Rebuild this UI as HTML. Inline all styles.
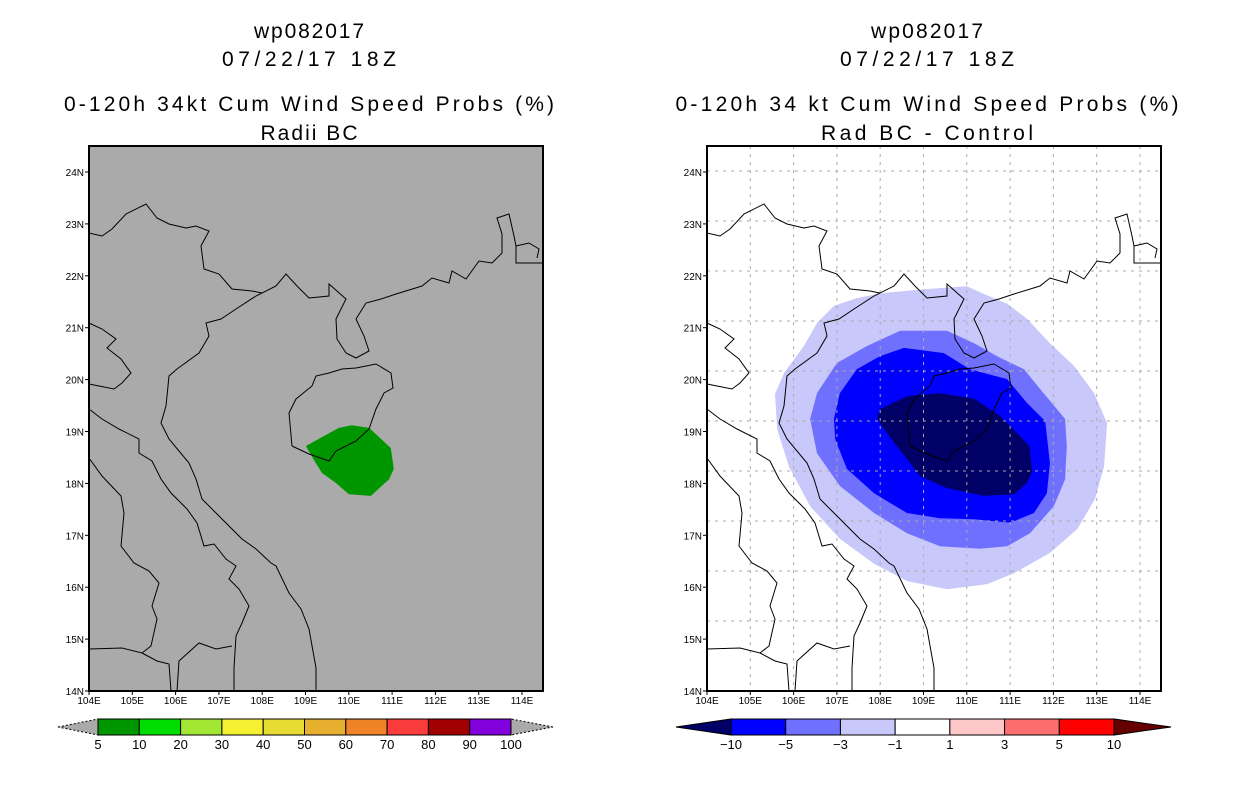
<!DOCTYPE html>
<html><head><meta charset="utf-8"><style>
body{margin:0;background:#fff;width:1236px;height:800px;overflow:hidden}
svg{display:block}
text{font-family:"Liberation Sans",sans-serif;fill:#000}
</style></head><body>
<svg id="s" width="1236" height="800"></svg>
<script>
const lonTicks=[104,105,106,107,108,109,110,111,112,113,114];
const latTicks=[14,15,16,17,18,19,20,21,22,23,24];
const probLevels=[5,10,20,30,40,50,60,70,80,90,100];
const probColors=['#009600','#00dc00','#a0e632','#f5f032','#e6dc32','#e6af2d','#f08228','#fa3c3c','#a00000','#8200dc'];
const diffLevels=[-10,-5,-3,-1,1,3,5,10];
const diffColors=['#0000ff','#7070ff','#c8c8fa','#ffffff','#ffc8c8','#ff6e6e','#ff0000'];
const greenLon=[109.01,109.77,110.07,110.47,110.97,111.04,110.93,110.51,110.00,109.70,109.38,109.24];
const greenLat=[18.72,19.07,19.12,19.07,18.68,18.28,18.08,17.76,17.79,18.01,18.20,18.39];
const lightLon=[105.57,105.78,106.24,106.54,106.93,107.46,108.09,109.01,110.00,110.40,110.93,111.39,111.92,112.48,112.94,113.24,113.17,112.96,112.55,111.92,111.09,110.47,109.54,108.62,107.86,107.07,106.38,105.89,105.62];
const lightLat=[19.72,20.13,20.65,21.09,21.42,21.57,21.67,21.74,21.80,21.65,21.46,21.17,20.70,20.26,19.74,19.16,18.33,17.70,17.12,16.66,16.27,16.06,15.96,16.12,16.45,16.93,17.56,18.33,19.05];
const medLon=[106.38,106.54,107.00,107.70,108.46,109.54,110.17,110.70,111.32,111.69,112.27,112.31,112.27,112.01,111.46,110.93,110.30,109.38,108.62,107.86,107.07,106.54];
const medLat=[19.24,19.74,20.32,20.65,20.94,20.94,20.70,20.45,20.20,19.82,19.24,18.72,18.08,17.56,17.04,16.79,16.74,16.79,17.04,17.43,17.95,18.58];
const blueLon=[106.93,107.07,107.46,107.99,108.55,109.47,110.07,110.93,111.39,111.81,111.92,111.85,111.55,111.00,110.17,109.38,108.62,107.86,107.23,106.96];
const blueLat=[19.24,19.74,20.20,20.45,20.61,20.51,20.20,20.01,19.55,19.20,18.39,17.81,17.43,17.24,17.31,17.33,17.43,17.81,18.28,18.85];
const darkLon=[107.93,107.99,108.62,109.38,110.17,110.77,111.23,111.44,111.51,111.39,111.09,110.40,109.54,108.92,108.62,108.32];
const darkLat=[19.24,19.43,19.68,19.74,19.63,19.30,18.91,18.72,18.24,18.01,17.79,17.76,17.91,18.14,18.47,18.78];

const NS='http://www.w3.org/2000/svg', S=document.getElementById('s');
function el(t,a,p){const e=document.createElementNS(NS,t);for(const k in a)e.setAttribute(k,a[k]);(p||S).appendChild(e);return e;}
const FW=454,FH=545;
function xS(lon){return (lon-104)*43.3;}
function yS(lat){return FH-(lat-14)*51.9;}
const coasts=[
[[227,545],[227,522],[220,483],[212,463],[200,447],[187,420],[182,417],[167,403],[153,393],[137,377],[113,353],[107,333],[100,317],[80,293],[72,277],[77,260],[80,230],[88,223],[110,207],[120,190],[117,177],[132,173],[147,163],[167,150],[187,140],[197,128],[208,140],[220,152],[240,150],[240,138],[257,153],[247,173],[248,193],[257,207],[267,212],[280,205],[275,190],[267,173],[277,157],[292,153],[307,148],[333,140],[343,132],[360,137],[363,125],[377,133],[390,115],[403,117],[413,107],[413,88],[408,72],[420,68],[425,90],[427,100],[427,117],[454,117]],
[[0,87],[13,90],[23,83],[37,68],[57,58],[68,72],[80,78],[97,82],[107,80],[120,85],[112,100],[115,123],[130,128],[143,143],[163,145],[173,147]],
[[0,177],[13,183],[27,193],[18,202],[32,213],[42,227],[33,237],[25,243],[10,240],[0,238]],
[[0,263],[13,273],[30,283],[50,293],[50,307],[63,315],[72,333],[82,347],[98,363],[108,377],[115,400],[125,398],[137,413],[147,420],[140,433],[150,443],[160,460],[153,477],[147,490],[145,522],[145,545]],
[[0,312],[13,330],[32,350],[35,367],[32,400],[45,417],[60,425],[70,437],[63,460],[68,473],[62,500],[53,507],[33,502],[0,503]],
[[53,507],[68,515],[80,518],[82,545]],[[88,545],[90,515],[110,497],[127,503],[143,500]],
[[203,300],[200,267],[207,253],[223,240],[227,230],[240,227],[253,223],[267,222],[287,218],[302,227],[304,242],[295,247],[287,263],[280,283],[267,295],[247,305],[240,315],[220,308],[203,300]],
[[427,100],[440,97],[450,103],[448,112]]
];
function poly(g,lon,lat,fill,name){
  const p=el('polygon',{points:lon.map((v,i)=>xS(v).toFixed(1)+','+yS(lat[i]).toFixed(1)).join(' '),fill:fill},g);
  
  
}
function panel(ox,bg,kind){
  const g=el('g',{transform:`translate(${ox},146)`});
  
  
  el('rect',{x:0,y:0,width:FW,height:FH,fill:bg},g);
  if(kind==='radii'){poly(g,greenLon,greenLat,'#009600','prob-5-10-area');}
  else{
    poly(g,lightLon,lightLat,'#c8c8fa','diff-minus1-area');
    poly(g,medLon,medLat,'#7070ff','diff-minus3-area');
    poly(g,blueLon,blueLat,'#0000ff','diff-minus5-area');
    poly(g,darkLon,darkLat,'#000066','diff-minus10-area');
    for(let i=1;i<=10;i++){el('line',{x1:i*43.3,y1:0,x2:i*43.3,y2:FH,stroke:'#aaa','stroke-dasharray':'3,5'},g);}
    for(let j=0;j<10;j++){const y=25+j*50;el('line',{x1:0,y1:y,x2:FW,y2:y,stroke:'#aaa','stroke-dasharray':'3,5'},g);}
  }
  coasts.forEach(c=>{el('polyline',{points:c.join(' '),fill:'none',stroke:'#000','stroke-width':1},g);});
  el('rect',{x:0,y:0,width:FW,height:FH,fill:'none',stroke:'#000','stroke-width':2},g);
  lonTicks.forEach(v=>{const x=xS(v);el('line',{x1:x,y1:FH,x2:x,y2:FH+4,stroke:'#000'},g);
    const t=el('text',{x:x,y:FH+13,'font-size':10,'text-anchor':'middle'},g);t.textContent=v+'E';
    });
  latTicks.forEach(v=>{const y=yS(v);el('line',{x1:-4,y1:y,x2:0,y2:y,stroke:'#000'},g);
    const t=el('text',{x:-5,y:y+4,'font-size':10,'text-anchor':'end'},g);t.textContent=v+'N';
    });
}
panel(89,'#aaaaaa','radii');
panel(707,'#ffffff','diff');
function title(cx,lines,lens){lines.forEach((s,i)=>{const t=el('text',{x:cx,y:[38,66,111,140][i],'font-size':21,'text-anchor':'middle',textLength:lens[i],lengthAdjust:'spacing'});t.textContent=s;
  });}
title(309,['wp082017','07/22/17 18Z','0-120h 34kt Cum Wind Speed Probs (%)','Radii BC'],[110,174,490,97]);
title(927,['wp082017','07/22/17 18Z','0-120h 34 kt Cum Wind Speed Probs (%)','Rad BC - Control'],[112,174,503,212]);
function cbar(x0,x1,tipL,tipR,levels,colors,lc,rc,name){
  const g=el('g',{});
  const y0=719,y1=735,ym=727,w=(x1-x0)/colors.length;
  el('polygon',{points:`${tipL},${ym} ${x0},${y0} ${x0},${y1}`,fill:lc,stroke:'#000','stroke-dasharray':lc==='#aaaaaa'?'2,2':'none'},g);
  el('polygon',{points:`${tipR},${ym} ${x1},${y0} ${x1},${y1}`,fill:rc,stroke:'#000','stroke-dasharray':rc==='#aaaaaa'?'2,2':'none'},g);
  colors.forEach((c,i)=>{el('rect',{x:x0+i*w,y:y0,width:w,height:y1-y0,fill:c,stroke:'#000'},g);});
  levels.forEach((v,i)=>{const t=el('text',{x:x0+i*w,y:749,'font-size':13,'text-anchor':'middle'},g);t.textContent=String(v).replace('-','\u2212');});
}
cbar(98,511,58,553,probLevels,probColors,'#aaaaaa','#aaaaaa','prob-colorbar');
cbar(731,1114,676,1171,diffLevels,diffColors,'#000066','#660000','diff-colorbar');
</script>
</body></html>
